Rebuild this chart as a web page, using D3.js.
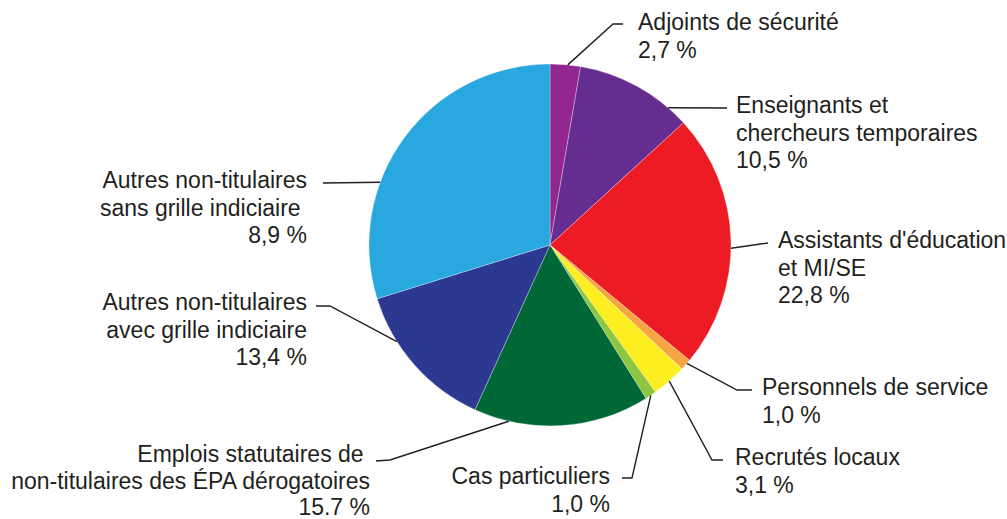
<!DOCTYPE html>
<html>
<head>
<meta charset="utf-8">
<script src="https://cdn.jsdelivr.net/npm/d3@7"></script>
<style>
  html, body { margin: 0; padding: 0; background: #fff; }
  svg { display: block; }
  text { font-family: "Liberation Sans", Arial, sans-serif; font-size: 23px; fill: #231F20; }
</style>
</head>
<body>
<svg id="chart" width="1007" height="519"></svg>
<script>
// ---- Data ----
const categories = [
  "Adjoints de sécurité",
  "Enseignants et chercheurs temporaires",
  "Assistants d'éducation et MI/SE",
  "Personnels de service",
  "Recrutés locaux",
  "Cas particuliers",
  "Emplois statutaires de non-titulaires des ÉPA dérogatoires",
  "Autres non-titulaires avec grille indiciaire",
  "Autres non-titulaires sans grille indiciaire"
];
// slice sizes as drawn in the picture (percent)
const sliceValues = [2.7, 10.5, 22.8, 1.0, 3.1, 1.0, 15.7, 13.4, 29.8];
// percentage labels as printed
const valueLabels = ["2,7 %", "10,5 %", "22,8 %", "1,0 %", "3,1 %", "1,0 %", "15.7 %", "13,4 %", "8,9 %"];
// label lines as printed
const labelLines = [
  ["Adjoints de sécurité"],
  ["Enseignants et", "chercheurs temporaires"],
  ["Assistants d'éducation", "et MI/SE"],
  ["Personnels de service"],
  ["Recrutés locaux"],
  ["Cas particuliers"],
  ["Emplois statutaires de\u00A0", "non-titulaires des ÉPA dérogatoires"],
  ["Autres non-titulaires", "avec grille indiciaire"],
  ["Autres non-titulaires", "sans grille indiciaire\u00A0"]
];

// ---- Style / layout ----
const colors = ["#92278F", "#662D91", "#ED1C24", "#F7A541", "#FCEE21", "#8DC63F", "#006837", "#2B3990", "#29A8E0"];
const cx = 550, cy = 245, R = 181;
// position of leader on slice (fraction of slice angle), leader bend points, text anchor
const layout = [
  { f: 0.58, pts: [[613, 24], [623, 24]], tx: 638, ty: 30, lh: 27.5, anchor: "start" },
  { f: 0.82, pts: [[727, 108]], tx: 736, ty: 113, lh: 27.5, anchor: "start" },
  { f: 0.53, pts: [[768, 243]], tx: 778, ty: 248, lh: 27.5, anchor: "start" },
  { f: 0.35, pts: [[737, 390], [752, 390]], tx: 762, ty: 395, lh: 27.5, anchor: "start" },
  { f: 0.5, pts: [[712, 460], [723, 460]], tx: 735, ty: 465, lh: 27.5, anchor: "start" },
  { f: 0.5, pts: [[632, 478], [622, 478]], tx: 610, ty: 484, lh: 27.5, anchor: "end" },
  { f: 0.8, pts: [[390, 460], [376, 461]], tx: 370, ty: 462, lh: 26.5, anchor: "end" },
  { f: 0.69, pts: [[330, 306], [316, 306]], tx: 307, ty: 310, lh: 27.5, anchor: "end" },
  { f: 0.35, pts: [[323, 183]], tx: 307, ty: 188, lh: 27.5, anchor: "end" }
];

const svg = d3.select("#chart");
const g = svg.append("g").attr("transform", `translate(${cx},${cy})`);

const pie = d3.pie().sort(null).value(d => d);
const arcs = pie(sliceValues);
const arc = d3.arc().innerRadius(0).outerRadius(R);

g.selectAll("path.slice")
  .data(arcs)
  .enter().append("path")
  .attr("class", "slice")
  .attr("d", arc)
  .attr("fill", (d, i) => colors[i])
  .attr("stroke", "#ffffff")
  .attr("stroke-width", 0.5)
  .attr("stroke-opacity", 0.6);

// leaders and labels
const line = d3.line();
arcs.forEach((a, i) => {
  const L = layout[i];
  const ang = a.startAngle + L.f * (a.endAngle - a.startAngle);
  const edge = [cx + R * Math.sin(ang), cy - R * Math.cos(ang)];
  svg.append("path")
    .attr("d", line([edge, ...L.pts]))
    .attr("fill", "none")
    .attr("stroke", "#231F20")
    .attr("stroke-width", 1.4);

  const lines = [...labelLines[i], valueLabels[i]];
  const t = svg.append("text")
    .attr("text-anchor", L.anchor)
    .attr("xml:space", "preserve");
  lines.forEach((s, k) => {
    t.append("tspan")
      .attr("x", L.tx)
      .attr("y", L.ty + k * L.lh)
      .text(s);
  });
});
</script>
</body>
</html>
